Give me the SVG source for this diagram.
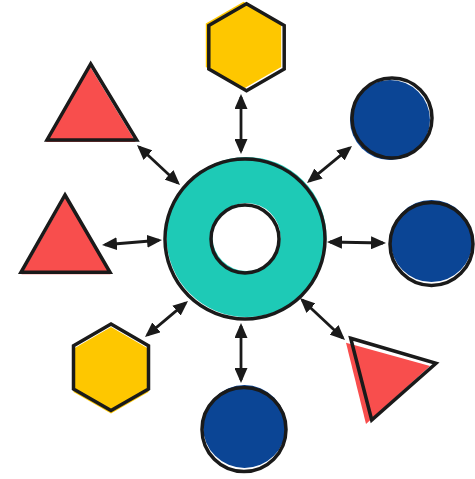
<svg xmlns="http://www.w3.org/2000/svg" width="475" height="479" viewBox="0 0 475 479">
<style>
.ol{fill:none;stroke:#1a1a1a;stroke-width:3.5;stroke-linejoin:miter}
.yel{fill:#fec700}
.red{fill:#f84e4d}
.blu{fill:#0b4595}
.teal{fill:#1ecab6}
.con{stroke:#1a1a1a;stroke-width:2.8;fill:none;marker-start:url(#ah);marker-end:url(#ah)}
</style>
<defs>
<marker id="ah" viewBox="0 0 15 13" refX="12" refY="6.5" markerWidth="15" markerHeight="13" markerUnits="userSpaceOnUse" orient="auto-start-reverse">
<path d="M0,0 L15,6.5 L0,13 z" fill="#1a1a1a"/>
</marker>
</defs>
<rect width="475" height="479" fill="#ffffff"/>
<g id="connectors">
<line class="con" x1="241" y1="97" x2="241" y2="151"/>
<line class="con" x1="139.2" y1="147" x2="177.8" y2="183"/>
<line class="con" x1="349.7" y1="147.9" x2="309.3" y2="181.1"/>
<line class="con" x1="105" y1="244.75" x2="159" y2="240.25"/>
<line class="con" x1="330" y1="242" x2="383" y2="243"/>
<line class="con" x1="147.3" y1="335.1" x2="185.7" y2="302.9"/>
<line class="con" x1="241" y1="326" x2="241" y2="380"/>
<line class="con" x1="302.2" y1="300" x2="342.8" y2="338"/>
</g>
<g id="hub">
<path class="teal" fill-rule="evenodd" transform="translate(1.5,-2)" d="M325,239 A80,80 0 1 0 165,239 A80,80 0 1 0 325,239 Z M279,239 A34,34 0 1 0 211,239 A34,34 0 1 0 279,239 Z"/>
<circle class="ol" cx="245" cy="239" r="80"/>
<circle class="ol" cx="245" cy="239" r="34"/>
</g>
<g id="hex-top">
<polygon class="yel" transform="translate(-3,-2)" points="246.5,3.8 284.2,25.5 284.2,69 246.5,90.8 208.8,69 208.8,25.5"/>
<polygon class="ol" points="246.5,3.8 284.2,25.5 284.2,69 246.5,90.8 208.8,69 208.8,25.5"/>
</g>
<g id="circle-top-right">
<circle class="blu" cx="390" cy="120" r="40"/>
<circle class="ol" cx="392" cy="118" r="40"/>
</g>
<g id="tri-top-left">
<polygon class="red" transform="translate(-1,2)" points="90.7,64 136.7,140 47,140"/>
<polygon class="ol" points="90.7,64 136.7,140 47,140"/>
</g>
<g id="tri-left">
<polygon class="red" transform="translate(0.5,2)" points="65,195 110,272.3 21,272.3"/>
<polygon class="ol" points="65,195 110,272.3 21,272.3"/>
</g>
<g id="circle-right">
<circle class="blu" cx="431.5" cy="241" r="41"/>
<circle class="ol" cx="431.5" cy="244" r="41.5"/>
</g>
<g id="hex-bottom-left">
<polygon class="yel" transform="translate(0,3)" points="111,324 148.5,345.7 148.5,389 111,410.6 73.5,389 73.5,345.7"/>
<polygon class="ol" points="111,324 148.5,345.7 148.5,389 111,410.6 73.5,389 73.5,345.7"/>
</g>
<g id="circle-bottom">
<circle class="blu" cx="244.5" cy="426.5" r="41.5"/>
<circle class="ol" cx="244" cy="429.5" r="42"/>
</g>
<g id="tri-bottom-right">
<polygon class="red" points="346,342.7 430,366 366,424"/>
<polygon class="ol" points="350.7,338.3 436,363.3 371.7,420"/>
</g>
</svg>
